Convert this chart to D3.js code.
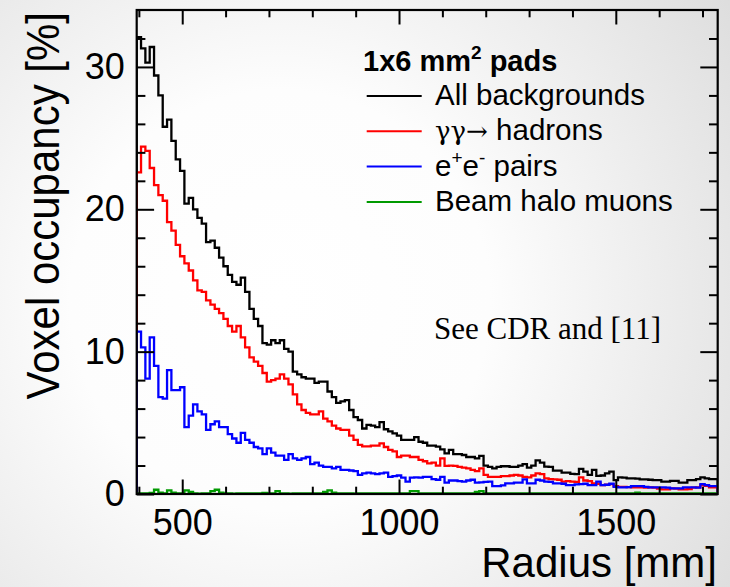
<!DOCTYPE html>
<html><head><meta charset="utf-8">
<script src="https://cdn.jsdelivr.net/npm/d3@7"></script>
<style>html,body{margin:0;padding:0;background:#fff}svg{display:block}</style>
</head><body>
<svg id="chart" width="730" height="587"></svg>
<script>
// ---- data ----
const binStart = 395;   // mm, first bin lower edge
const binWidth = 10;    // mm
const allBackgrounds = [
 32.1,31.3,30.3,31.4,29.4,28.0,25.8,26.3,24.8,23.5,
 22.7,20.4,20.8,20.0,19.4,19.0,17.7,17.8,17.3,16.6,
 16.0,15.4,14.9,14.7,15.2,14.2,13.0,12.3,11.8,10.6,
 10.5,10.8,10.6,10.8,10.2,10.0,8.6,8.4,8.2,8.1,
 8.1,7.8,7.9,7.9,7.2,6.8,6.4,6.5,6.6,5.9,
 5.4,5.2,4.6,4.85,4.8,4.7,5.05,4.55,4.4,4.26,
 4.1,3.8,3.8,3.8,4.0,3.67,3.6,3.4,3.4,3.33,
 3.14,2.86,3.1,2.8,2.8,2.74,2.6,2.6,2.5,2.68,
 2.0,1.9,1.8,1.9,1.95,1.95,1.9,1.9,2.0,2.1,
 1.85,2.0,2.36,2.2,1.93,1.9,1.64,1.64,1.5,1.5,
 1.41,1.4,1.76,1.57,1.34,1.69,1.27,1.3,1.45,1.57,
 0.98,1.17,1.15,1.1,1.1,1.08,1.03,1.03,1.0,0.98,
 0.98,0.87,0.87,0.92,0.92,0.8,0.8,0.98,0.98,1.05,
 1.17,1.1,1.05,1.05
];
const gammaHadrons = [
 22.6,24.4,24.1,22.9,21.7,21.0,20.6,19.1,18.5,17.5,
 16.7,16.2,15.7,15.0,14.3,14.2,13.6,13.3,13.0,12.7,
 12.3,11.8,11.4,11.8,11.0,10.3,9.6,9.3,9.0,8.5,
 7.9,8.0,8.1,8.4,8.1,7.7,7.0,6.3,5.9,5.7,
 5.6,5.6,5.8,5.3,5.1,4.8,4.6,4.5,4.5,4.1,
 3.8,3.45,3.35,3.35,3.4,3.4,3.55,3.3,3.1,3.0,
 2.6,2.7,2.7,2.6,2.6,2.4,2.3,2.15,2.2,2.0,
 2.5,1.97,2.0,1.97,1.9,1.85,1.8,1.7,1.6,1.8,
 1.35,1.2,1.2,1.2,1.25,1.25,1.3,1.34,1.3,1.2,
 1.17,1.3,1.45,1.4,1.1,1.05,1.03,1.0,0.87,0.9,
 0.87,0.85,1.17,0.95,0.9,0.75,0.72,0.63,0.65,0.7,
 0.55,0.5,0.5,0.48,0.47,0.47,0.47,0.45,0.47,0.45,
 0.38,0.33,0.33,0.4,0.38,0.33,0.33,0.35,0.45,0.47,
 0.63,0.58,0.47,0.47
];
const eePairs = [
 11.4,10.3,8.1,11.0,9.0,6.8,6.7,8.7,7.3,7.3,
 7.5,4.7,5.5,6.3,5.8,5.6,4.5,4.9,5.1,4.7,
 4.7,4.2,3.9,3.6,4.3,3.8,3.6,3.3,3.2,2.8,
 3.2,2.9,2.7,2.7,2.4,2.8,2.5,2.4,2.5,2.6,
 2.1,2.2,2.0,1.9,1.9,1.8,1.9,1.7,1.7,1.65,
 1.6,1.35,1.45,1.5,1.45,1.4,1.45,1.5,1.2,1.25,
 1.3,1.15,0.87,1.15,1.17,1.15,1.2,1.2,1.05,1.0,
 1.2,0.8,0.95,0.95,0.9,0.87,0.95,1.0,0.8,0.82,
 0.85,0.87,0.56,0.55,0.6,0.75,0.75,0.8,0.8,1.03,
 0.75,0.75,1.0,0.95,0.87,0.85,0.75,0.75,0.72,0.63,
 0.63,0.68,0.7,0.72,0.63,0.63,0.87,0.63,0.65,0.72,
 0.5,0.47,0.47,0.48,0.55,0.56,0.56,0.5,0.47,0.47,
 0.47,0.47,0.45,0.4,0.4,0.4,0.47,0.47,0.47,0.45,
 0.7,0.62,0.56,0.56
];
const haloMuons = [
 0.05,0.05,0.05,0.08,0.3,0.1,0.05,0.25,0.1,0.05,
 0.05,0.25,0.15,0.05,0.03,0.05,0.05,0.2,0.3,0.1,
 0.05,0.05,0.03,0.05,0.05,0.05,0.05,0.05,0.05,0.08,
 0.05,0.05,0.2,0.05,0.05,0.03,0.05,0.05,0.05,0.05,
 0.05,0.05,0.05,0.15,0.25,0.1,0.05,0.05,0.05,0.05,
 0.03,0.05,0.05,0.05,0.05,0.05,0.05,0.05,0.05,0.05,
 0.05,0.05,0.05,0.2,0.2,0.05,0.05,0.05,0.05,0.05,
 0.05,0.05,0.05,0.05,0.05,0.05,0.05,0.05,0.15,0.2,
 0.05,0.05,0.05,0.05,0.05,0.05,0.05,0.05,0.05,0.05,
 0.05,0.05,0.05,0.05,0.05,0.05,0.05,0.05,0.05,0.05,
 0.05,0.05,0.05,0.05,0.05,0.05,0.05,0.05,0.05,0.05,
 0.05,0.05,0.05,0.05,0.05,0.1,0.05,0.05,0.05,0.05,
 0.05,0.05,0.05,0.05,0.05,0.05,0.05,0.05,0.05,0.05,
 0.05,0.05,0.05,0.05
];
const seriesNames = ["All backgrounds", "γγ→ hadrons", "e+e- pairs", "Beam halo muons"];
const seriesColors = ["#000000", "#ff0000", "#0000ff", "#009a00"];
const xMajorTicks = [500, 1000, 1500];
const xMinorTicks = [400, 600, 700, 800, 900, 1100, 1200, 1300, 1400, 1600, 1700];
const yMajorTicks = [0, 10, 20, 30];
const yMinorTicks = [2, 4, 6, 8, 12, 14, 16, 18, 22, 24, 26, 28, 32];
const xDomain = [395, 1735];
const yDomain = [0, 34];

// ---- layout ----
const W = 730, H = 587;
const L = 136.7, R = 717.7, T = 10, B = 494;
const svg = d3.select("#chart");
const FONT = "'Liberation Sans', Arial, Helvetica, sans-serif";

const defs = svg.append("defs");
const grad = defs.append("radialGradient").attr("id", "bg")
  .attr("gradientUnits", "userSpaceOnUse")
  .attr("cx", 280).attr("cy", 300).attr("r", 600);
grad.append("stop").attr("offset", 0).attr("stop-color", "#ffffff");
grad.append("stop").attr("offset", 0.35).attr("stop-color", "#fdfdfd");
grad.append("stop").attr("offset", 1).attr("stop-color", "#d8d8d8");
defs.append("clipPath").attr("id", "plotclip").append("rect")
  .attr("x", L).attr("y", T).attr("width", R - L).attr("height", B - T);

svg.append("rect").attr("width", W).attr("height", H).attr("fill", "url(#bg)");

const x = d3.scaleLinear().domain(xDomain).range([L, R]);
const y = d3.scaleLinear().domain(yDomain).range([B, T]);

// ---- histograms ----
const line = d3.line().x(d => x(d[0])).y(d => y(d[1]));
function histPoints(vals) {
  const pts = [[binStart, 0]];
  vals.forEach((v, i) => {
    pts.push([binStart + i * binWidth, v]);
    pts.push([binStart + (i + 1) * binWidth, v]);
  });
  pts.push([binStart + vals.length * binWidth, 0]);
  return pts;
}
const gHist = svg.append("g").attr("clip-path", "url(#plotclip)");
[allBackgrounds, gammaHadrons, eePairs, haloMuons].forEach((vals, k) => {
  gHist.append("path").attr("d", line(histPoints(vals)))
    .attr("fill", "none").attr("stroke", seriesColors[k])
    .attr("stroke-width", 2.3).attr("stroke-linejoin", "miter");
});

// ---- axes (ROOT style, ticks inside on all four sides) ----
function styleAxis(g) {
  g.select(".domain").remove();
  g.selectAll(".tick line").attr("stroke", "#000").attr("stroke-width", 2);
}
const fmt = d3.format("d");
const xMajLen = 14.5, xMinLen = 7.3, yMajLen = 17.4, yMinLen = 8.7;
svg.append("g").attr("transform", `translate(0,${B})`)
  .call(d3.axisBottom(x).tickValues(xMajorTicks).tickFormat(fmt).tickSizeInner(-xMajLen).tickSizeOuter(0).tickPadding(15))
  .call(styleAxis)
  .call(g => g.selectAll("text").attr("font-family", FONT).attr("font-size", 36).attr("fill", "#000"));
svg.append("g").attr("transform", `translate(0,${B})`)
  .call(d3.axisBottom(x).tickValues(xMinorTicks).tickSizeInner(-xMinLen).tickSizeOuter(0).tickFormat(() => ""))
  .call(styleAxis);
svg.append("g").attr("transform", `translate(0,${T})`)
  .call(d3.axisTop(x).tickValues(xMajorTicks).tickSizeInner(-xMajLen).tickSizeOuter(0).tickFormat(() => ""))
  .call(styleAxis);
svg.append("g").attr("transform", `translate(0,${T})`)
  .call(d3.axisTop(x).tickValues(xMinorTicks).tickSizeInner(-xMinLen).tickSizeOuter(0).tickFormat(() => ""))
  .call(styleAxis);
svg.append("g").attr("transform", `translate(${L},0)`)
  .call(d3.axisLeft(y).tickValues(yMajorTicks).tickFormat(fmt).tickSizeInner(-yMajLen).tickSizeOuter(0).tickPadding(12))
  .call(styleAxis)
  .call(g => g.selectAll("text").attr("font-family", FONT).attr("font-size", 36).attr("fill", "#000"));
svg.append("g").attr("transform", `translate(${L},0)`)
  .call(d3.axisLeft(y).tickValues(yMinorTicks).tickSizeInner(-yMinLen).tickSizeOuter(0).tickFormat(() => ""))
  .call(styleAxis);
svg.append("g").attr("transform", `translate(${R},0)`)
  .call(d3.axisRight(y).tickValues(yMajorTicks).tickSizeInner(-yMajLen).tickSizeOuter(0).tickFormat(() => ""))
  .call(styleAxis);
svg.append("g").attr("transform", `translate(${R},0)`)
  .call(d3.axisRight(y).tickValues(yMinorTicks).tickSizeInner(-yMinLen).tickSizeOuter(0).tickFormat(() => ""))
  .call(styleAxis);

// frame
svg.append("rect").attr("x", L).attr("y", T).attr("width", R - L).attr("height", B - T)
  .attr("fill", "none").attr("stroke", "#000").attr("stroke-width", 2.2);

// axis titles
svg.append("text").attr("x", 717).attr("y", 577).attr("text-anchor", "end")
  .attr("font-family", FONT).attr("font-size", 42).text("Radius [mm]");
svg.append("text").attr("transform", "translate(59,12) rotate(-90) scale(1,1.12)").attr("text-anchor", "end")
  .attr("font-family", FONT).attr("font-size", 42).text("Voxel occupancy [%]");

// ---- legend ----
const leg = svg.append("g").attr("font-family", FONT).attr("fill", "#000");
const title = leg.append("text").attr("x", 363).attr("y", 71).attr("font-size", 29).attr("font-weight", "bold");
title.append("tspan").text("1x6 mm");
title.append("tspan").attr("font-size", 19).attr("dy", -12).text("2");
title.append("tspan").attr("dy", 12).text(" pads");

const legY0 = 96, legDy = 35.3;
seriesNames.forEach((name, k) => {
  const yy = legY0 + k * legDy;
  leg.append("line").attr("x1", 366.7).attr("x2", 421.7).attr("y1", yy).attr("y2", yy)
    .attr("stroke", seriesColors[k]).attr("stroke-width", 2);
  const t = leg.append("text").attr("x", 435).attr("y", yy + 9).attr("font-size", 29.5);
  if (k === 1) {
    t.append("tspan").attr("font-family", "'DejaVu Serif', 'Liberation Serif', serif").attr("font-size", 26).text("γγ→");
    t.append("tspan").text(" hadrons");
  } else if (k === 2) {
    t.append("tspan").text("e");
    t.append("tspan").attr("font-size", 19).attr("dy", -12).text("+");
    t.append("tspan").attr("dy", 12).text("e");
    t.append("tspan").attr("font-size", 19).attr("dy", -12).text("-");
    t.append("tspan").attr("dy", 12).text(" pairs");
  } else {
    t.text(name);
  }
});

svg.append("text").attr("x", 434).attr("y", 339)
  .attr("font-family", "'Liberation Serif', 'Times New Roman', serif").attr("font-size", 31)
  .text("See CDR and [11]");
</script>
</body></html>
